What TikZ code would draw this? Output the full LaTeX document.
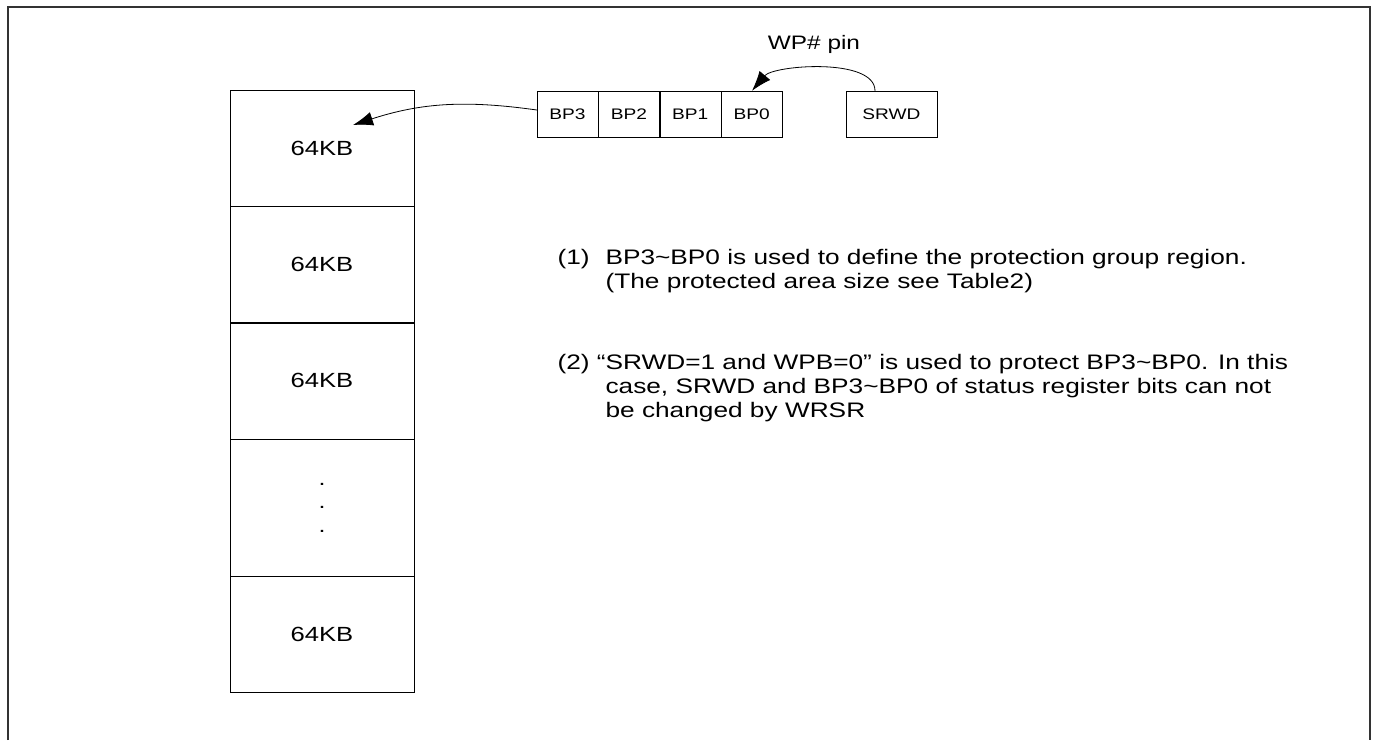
\documentclass[tikz,border=0pt]{standalone}
\usepackage{fontspec}
\setmainfont[FakeStretch=1.25]{Liberation Sans}
\usetikzlibrary{arrows.meta,positioning}

\tikzset{
	regcell/.style={draw,minimum width=61pt,minimum height=46pt,inner sep=0pt,font=\fontsize{15.3}{17}\selectfont},
	memrow/.style={draw,minimum width=184pt,minimum height=116pt,inner sep=0pt,font=\fontsize{20.5}{22}\selectfont},
	bigarrow/.style={-{Latex[length=20pt,width=14pt]},line width=0.8pt},
	note/.style={anchor=base west,align=left,font=\fontsize{21}{24}\selectfont}
}

\begin{document}
\begin{tikzpicture}[x=1pt,y=-1pt]
	\useasboundingbox (0,0) rectangle (1382,740);
	% outer frame
	\draw[line width=2pt,black!80] (8,740) -- (8,7) -- (1370,7) -- (1370,740);

	% memory column
	\node[memrow] (m1) at (322,148) {64KB};
	\node[memrow,below=0pt of m1] (m2) {64KB};
	\node[memrow,below=0pt of m2] (m3) {64KB};
	\node[memrow,minimum height=137pt,below=0pt of m3,align=center,font=\fontsize{20}{23.5}\selectfont] (m4) {.\\.\\.};
	\node[memrow,below=0pt of m4] (m5) {64KB};

	% status register bits
	\node[regcell] (bp3) at (567.5,114) {BP3};
	\node[regcell,right=0pt of bp3] (bp2) {BP2};
	\node[regcell,right=0pt of bp2] (bp1) {BP1};
	\node[regcell,right=0pt of bp1] (bp0) {BP0};
	\node[regcell,minimum width=91pt] (srwd) at (891.5,114) {SRWD};
	\node[font=\fontsize{19.5}{22}\selectfont] (wp) at (814,44) {WP\# pin};

	% arrows
	\coordinate (tip) at (353,125);
	\draw[bigarrow] (bp3.west |- 0,110) to[out=172,in=18] (tip);
	\draw[bigarrow] (srwd.north west -| 875,0) to[out=90,in=50,looseness=0.7] (bp0.north -| 752,0);

	% notes (anchored at the last baseline)
	\node[note] (n1) at (557,288) {\rlap{\kern-3pt(1)}\hspace*{45pt}BP3\textasciitilde BP0 is used to define the protection group region.\\
		\hspace*{45pt}(The protected area size see Table2)};
	\node[note] (n2) at (557,417) {\rlap{\kern-3pt(2)}\hspace*{45pt}\llap{\textquotedblleft}SRWD=1 and WPB=0\textquotedblright\ is used to protect BP3\textasciitilde BP0. In this\\
		\hspace*{45pt}case, SRWD and BP3\textasciitilde BP0 of status register bits can not\\
		\hspace*{45pt}be changed by WRSR};
\end{tikzpicture}
\end{document}
